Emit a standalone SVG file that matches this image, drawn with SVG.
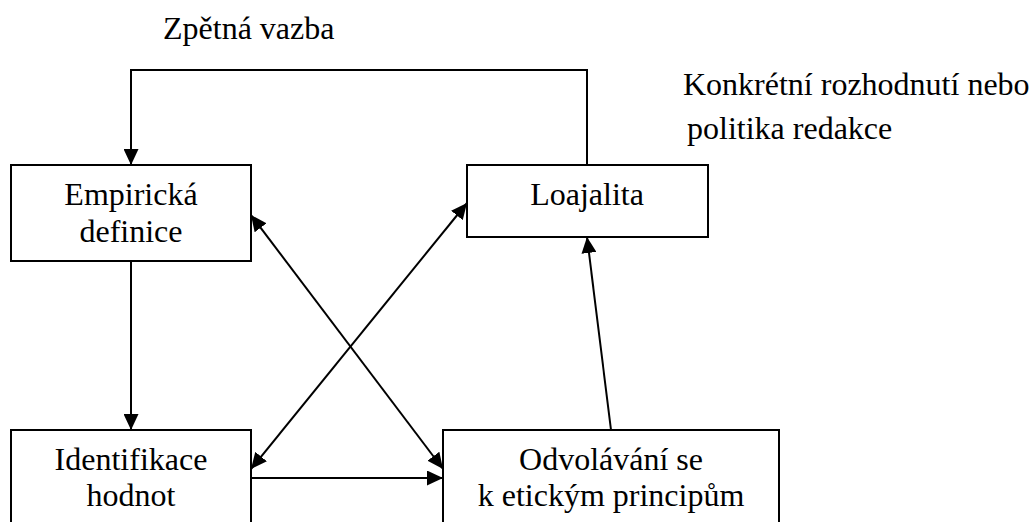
<svg xmlns="http://www.w3.org/2000/svg" width="1032" height="522" viewBox="0 0 1032 522">
<defs>
<marker id="ah" viewBox="0 0 16 15" refX="16" refY="7.5" markerWidth="16" markerHeight="15" markerUnits="userSpaceOnUse" orient="auto-start-reverse">
<path d="M0,0 L16,7.5 L0,15 Z" fill="#000"/>
</marker>
<style>
.box{fill:#fff;stroke:#000;stroke-width:2}
.t{font-family:"Liberation Serif","Times New Roman",Times,serif;font-size:32px;fill:#000}
.c{text-anchor:middle}
.ln{fill:none;stroke:#000;stroke-width:2}
</style>
</defs>
<rect width="1032" height="522" fill="#fff"/>
<g id="connectors">
<polyline class="ln" points="587,165 587,70 131,70 131,165" marker-end="url(#ah)"/>
<line class="ln" x1="131" y1="261" x2="131" y2="430" marker-end="url(#ah)"/>
<line class="ln" x1="251" y1="478" x2="443" y2="478" marker-end="url(#ah)"/>
<line class="ln" x1="611" y1="430" x2="587" y2="237" marker-end="url(#ah)"/>
<line class="ln" x1="251" y1="215" x2="443" y2="469" marker-start="url(#ah)" marker-end="url(#ah)"/>
<line class="ln" x1="251" y1="469" x2="467" y2="203" marker-start="url(#ah)" marker-end="url(#ah)"/>
</g>
<g id="empiricka">
<rect class="box" x="11" y="165" width="240" height="96"/>
<text class="t c" x="131" y="205">Empirická</text>
<text class="t c" x="131" y="242">definice</text>
</g>
<g id="loajalita">
<rect class="box" x="467" y="165" width="241" height="72"/>
<text class="t c" x="587" y="205">Loajalita</text>
</g>
<g id="identifikace">
<rect class="box" x="11" y="430" width="240" height="110"/>
<text class="t c" x="131" y="470">Identifikace</text>
<text class="t c" x="131" y="506">hodnot</text>
</g>
<g id="odvolavani">
<rect class="box" x="443" y="430" width="336" height="110"/>
<text class="t c" x="611" y="470">Odvolávání se</text>
<text class="t c" x="611" y="506">k etickým principům</text>
</g>
<g id="labels">
<text class="t" x="163" y="39">Zpětná vazba</text>
<text class="t" x="683" y="95">Konkrétní rozhodnutí nebo</text>
<text class="t" x="687" y="139">politika redakce</text>
</g>
</svg>
